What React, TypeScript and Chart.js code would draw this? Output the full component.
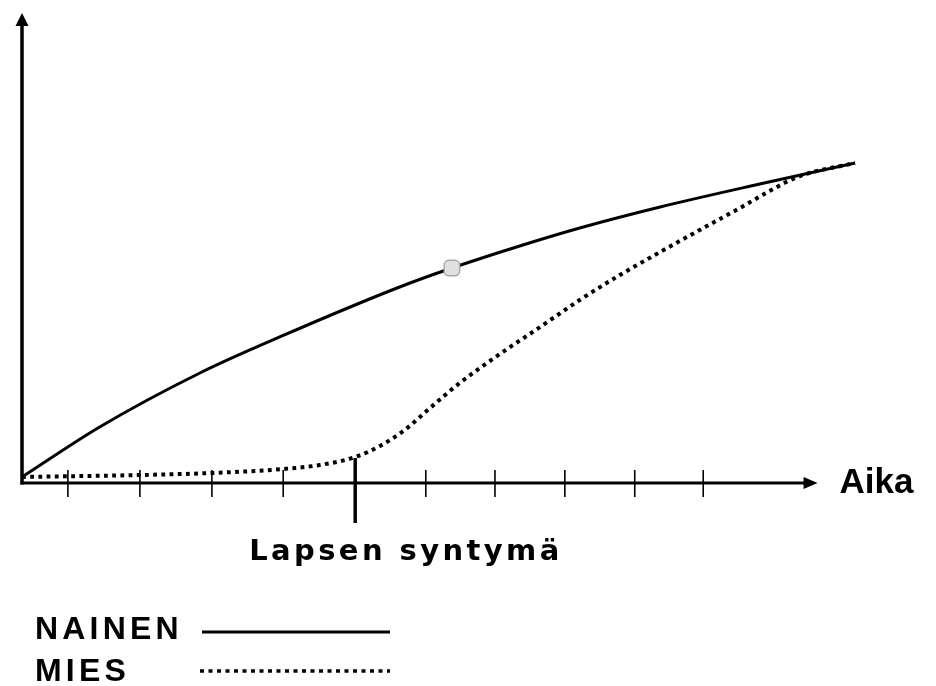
import React, { useEffect, useRef } from "react";
import { Chart, registerables } from "chart.js";

Chart.register(...registerables);

// Time positions (tick units) and relative values
const nainenX = [0.35, 1.45, 2.87, 4.0, 5.7, 6.44, 7.4, 8.25, 9.39, 10.8, 12.15];
const nainenY = [1.07, 11.78, 23.34, 31.05, 41.76, 45.82, 50.54, 54.39, 58.89, 63.81, 68.31];

const miesX = [0.35, 2.02, 3.04, 4.05, 4.57, 5.07, 5.42, 5.77, 6.13, 6.55, 7.12, 7.69, 8.25, 8.82, 9.39, 9.95, 10.52, 10.94, 11.37, 12.15];
const miesY = [1.07, 1.5, 1.93, 2.78, 3.64, 5.35, 7.71, 11.13, 15.85, 21.2, 27.41, 33.19, 38.97, 44.33, 49.25, 53.96, 58.67, 62.31, 65.52, 68.31];

const markerX = [6.44];
const markerY = [45.82];

const tickValues = [1, 2.02, 3.04, 4.05, 5.07, 6.07, 7.05, 8.04, 9.03, 10];
const birthTick = 5.07;
const axisOrigin = 0.35;
const axisEnd = 11.62;

const xTitle = "Aika";
const birthLabel = "Lapsen syntymä";
const legendItems = ["NAINEN", "MIES"];

const axesPlugin = {
  id: "drawnAxes",
  beforeDatasetsDraw(chart: any) {
    const ctx = chart.ctx;
    const xs = chart.scales.x;
    const ys = chart.scales.y;
    const ox = xs.getPixelForValue(axisOrigin);
    const oy = ys.getPixelForValue(0) + 1;
    const topY = ys.getPixelForValue(100) - 2;
    const endX = xs.getPixelForValue(axisEnd);
    ctx.save();
    ctx.strokeStyle = "#000";
    ctx.fillStyle = "#000";
    // y axis
    ctx.lineWidth = 3.5;
    ctx.beginPath();
    ctx.moveTo(ox, oy + 1.5);
    ctx.lineTo(ox, topY + 10);
    ctx.stroke();
    ctx.beginPath();
    ctx.moveTo(ox, topY);
    ctx.lineTo(ox - 6.5, topY + 13);
    ctx.lineTo(ox + 6.5, topY + 13);
    ctx.closePath();
    ctx.fill();
    // x axis
    ctx.lineWidth = 3;
    ctx.beginPath();
    ctx.moveTo(ox - 1.5, oy);
    ctx.lineTo(endX - 10, oy);
    ctx.stroke();
    ctx.beginPath();
    ctx.moveTo(endX, oy);
    ctx.lineTo(endX - 14, oy - 6);
    ctx.lineTo(endX - 14, oy + 6);
    ctx.closePath();
    ctx.fill();
    // ticks
    ctx.lineWidth = 1.6;
    tickValues.forEach((v) => {
      if (v === birthTick) return;
      const px = xs.getPixelForValue(v);
      ctx.beginPath();
      ctx.moveTo(px, oy - 13);
      ctx.lineTo(px, oy + 14);
      ctx.stroke();
    });
    const bx = xs.getPixelForValue(birthTick);
    ctx.lineWidth = 3.5;
    ctx.beginPath();
    ctx.moveTo(bx, oy - 25);
    ctx.lineTo(bx, oy + 40);
    ctx.stroke();
    ctx.restore();
  },
  afterDraw(chart: any) {
    const ctx = chart.ctx;
    const xs = chart.scales.x;
    const ys = chart.scales.y;
    const oy = ys.getPixelForValue(0) + 1;
    const endX = xs.getPixelForValue(axisEnd);
    const bx = xs.getPixelForValue(birthTick);
    ctx.save();
    ctx.fillStyle = "#000";
    ctx.textBaseline = "alphabetic";
    ctx.textAlign = "left";
    // x title
    ctx.font = "bold 35px 'Liberation Sans', Arial, sans-serif";
    (ctx as any).letterSpacing = "0px";
    ctx.fillText(xTitle, endX + 22, oy + 10);
    // birth label
    ctx.font = "bold 29px 'DejaVu Sans', Verdana, sans-serif";
    (ctx as any).letterSpacing = "3.4px";
    ctx.fillText(birthLabel, bx - 106, oy + 77);
    // legend
    ctx.font = "bold 32px 'Liberation Sans', Arial, sans-serif";
    (ctx as any).letterSpacing = "4.2px";
    ctx.fillText(legendItems[0], 35, 639);
    ctx.fillText(legendItems[1], 35, 681);
    (ctx as any).letterSpacing = "0px";
    ctx.strokeStyle = "#000";
    ctx.lineWidth = 3;
    ctx.beginPath();
    ctx.moveTo(202, 632);
    ctx.lineTo(390, 632);
    ctx.stroke();
    ctx.lineWidth = 3.5;
    ctx.setLineDash([4, 4.5]);
    ctx.beginPath();
    ctx.moveTo(200, 671);
    ctx.lineTo(390, 671);
    ctx.stroke();
    ctx.restore();
  },
};

export default function App() {
  const ref = useRef<HTMLCanvasElement | null>(null);
  useEffect(() => {
    if (!ref.current) return;
    const chart = new Chart(ref.current, {
      type: "line",
      data: {
        datasets: [
          {
            label: "marker",
            data: markerX.map((x, i) => ({ x, y: markerY[i] })),
            showLine: false,
            pointStyle: "rectRounded",
            pointRadius: 9,
            pointBackgroundColor: "#e0e0e0",
            pointBorderColor: "#a8a8a8",
            pointBorderWidth: 1.5,
            order: 0,
            clip: false,
          } as any,
          {
            label: legendItems[1],
            data: miesX.map((x, i) => ({ x, y: miesY[i] })),
            borderColor: "#000",
            borderWidth: 4,
            borderDash: [3.8, 4.4],
            borderCapStyle: "butt",
            pointRadius: 0,
            tension: 0.4,
            cubicInterpolationMode: "monotone",
            fill: false,
            order: 1,
            clip: false,
          } as any,
          {
            label: legendItems[0],
            data: nainenX.map((x, i) => ({ x, y: nainenY[i] })),
            borderColor: "#000",
            borderWidth: 3,
            pointRadius: 0,
            tension: 0.4,
            cubicInterpolationMode: "monotone",
            fill: false,
            order: 2,
            clip: false,
          } as any,
        ],
      },
      options: {
        responsive: false,
        animation: false,
        events: [],
        layout: { padding: { left: 22, right: 81, top: 15, bottom: 204 } },
        scales: {
          x: { type: "linear", min: 0.35, max: 12.15, display: false },
          y: { type: "linear", min: 0, max: 100, display: false },
        },
        plugins: { legend: { display: false }, tooltip: { enabled: false } },
      },
      plugins: [axesPlugin],
    });
    return () => chart.destroy();
  }, []);
  return (
    <div style={{ position: "absolute", left: 0, top: 0, width: 936, height: 686, background: "#fff" }}>
      <canvas ref={ref} width={936} height={686} style={{ display: "block" }} />
    </div>
  );
}
